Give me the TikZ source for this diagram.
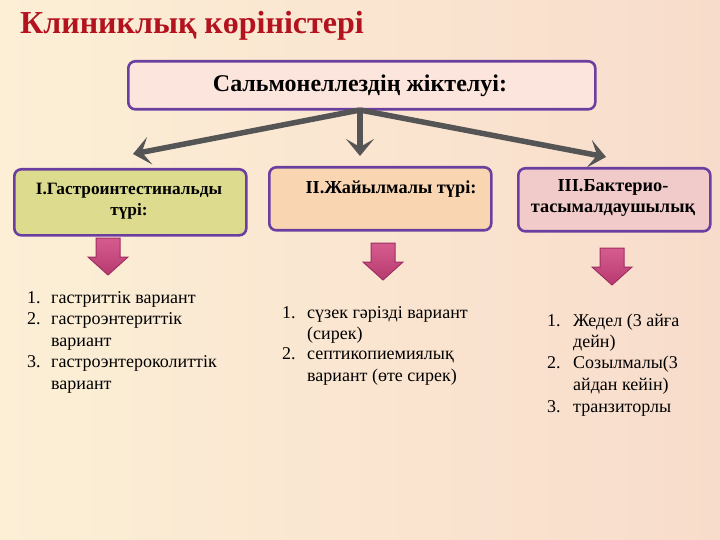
\documentclass[tikz,border=0pt]{standalone}
\usepackage{fontspec}
\setmainfont{Liberation Serif}[Ligatures=TeX]
\newfontfamily\tms{Liberation Serif}
\usetikzlibrary{arrows.meta,calc}
\definecolor{bgL}{HTML}{FCEFD6}
\definecolor{bgR}{HTML}{F8DCCB}
\definecolor{titlered}{HTML}{B3121F}
\definecolor{purp}{HTML}{6B3FA0}
\definecolor{topfill}{HTML}{FBE5DC}
\definecolor{olivefill}{HTML}{DCDB8E}
\definecolor{peachfill}{HTML}{F9D5B2}
\definecolor{pinkfill}{HTML}{F1CACA}
\definecolor{grayarr}{HTML}{555555}
\definecolor{pinkA}{HTML}{D65C8E}
\definecolor{pinkB}{HTML}{B73A6F}
\definecolor{pinkO}{HTML}{9E2F62}
\tikzset{
  box/.style={draw=purp, line width=2.6pt, rounded corners=7pt, anchor=north west, inner sep=0pt},
  boxtext/.style={font=\tms\bfseries\fontsize{18.3}{21}\selectfont, align=center},
  grayline/.style={draw=grayarr, line width=5.5pt, -{Stealth[length=17pt,width=28pt,inset=8pt]}},
  pinkarr/.style={draw=pinkO, line width=1pt, top color=pinkA, bottom color=pinkB},
  itemnum/.style={anchor=base west, font=\tms\fontsize{18}{21}\selectfont, inner sep=0pt},
  itemtxt/.style={anchor=base west, font=\tms\fontsize{18}{21}\selectfont, inner sep=0pt},
}
\begin{document}
\begin{tikzpicture}[x=1pt,y=-1pt]
\shade[left color=bgL, right color=bgR] (0,0) rectangle (720,540);
\useasboundingbox (0,0) rectangle (720,540);
% title
\node[anchor=base west, inner sep=0pt, text=titlered, font=\tms\bfseries\fontsize{32}{36}\selectfont] (title) at (20,34) {Клиниклық көріністері};
% top box
\node[box, fill=topfill, minimum width=467pt, minimum height=48pt] (top) at (127,60) {};
\node[font=\tms\bfseries\fontsize{24}{28}\selectfont] (toptxt) at (360,86) {Сальмонеллездің жіктелуі:};
% boxes
\node[box, fill=olivefill, minimum width=232pt, minimum height=66pt] (b1) at (13,168) {};
\node[boxtext, font=\tms\bfseries\fontsize{17.3}{20.5}\selectfont] (b1txt) at (129,201) {I.Гастроинтестинальды\\түрі:};
\node[box, fill=peachfill, minimum width=222pt, minimum height=63pt] (b2) at (268,166) {};
\node[boxtext] (b2txt) at (391,189) {II.Жайылмалы түрі:};
\node[box, fill=pinkfill, minimum width=192pt, minimum height=63pt] (b3) at (517,167) {};
\node[boxtext] (b3txt) at (613,198) {III.Бактерио-\\тасымалдаушылық};
% gray arrows
\coordinate (hub) at (360,110);
\coordinate (eL) at (133,154);
\coordinate (eM) at (360,156);
\coordinate (eR) at (606,157);
\draw[grayline] (hub) -- (eL);
\draw[grayline] (hub) -- (eM);
\draw[grayline] (hub) -- (eR);
% pink block arrows
\path[pinkarr, shift={(108,238)}] (-12,0) -- (12,0) -- (12,19) -- (20,19) -- (0,37) -- (-20,19) -- (-12,19) -- cycle;
\path[pinkarr, shift={(383,243)}] (-12,0) -- (12,0) -- (12,19) -- (20,19) -- (0,37) -- (-20,19) -- (-12,19) -- cycle;
\path[pinkarr, shift={(612,248)}] (-12,0) -- (12,0) -- (12,19) -- (20,19) -- (0,37) -- (-20,19) -- (-12,19) -- cycle;
% list 1
\node[itemnum] (n11) at (27,303) {1.};
\node[itemtxt] (t11) at (51,303) {гастриттік вариант};
\node[itemnum] (n12) at (27,324) {2.};
\node[itemtxt] (t12) at (51,324) {гастроэнтериттік};
\node[itemtxt] (t12b) at (51,346) {вариант};
\node[itemnum] (n13) at (27,367) {3.};
\node[itemtxt] (t13) at (51,367) {гастроэнтероколиттік};
\node[itemtxt] (t13b) at (51,389) {вариант};
% list 2
\node[itemnum] (n21) at (282,318) {1.};
\node[itemtxt] (t21) at (307,318) {сүзек гәрізді вариант};
\node[itemtxt] (t21b) at (307,339) {(сирек)};
\node[itemnum] (n22) at (282,359) {2.};
\node[itemtxt] (t22) at (307,359) {септикопиемиялық};
\node[itemtxt] (t22b) at (307,381) {вариант (өте сирек)};
% list 3
\node[itemnum] (n31) at (547,326) {1.};
\node[itemtxt] (t31) at (573,326) {Жедел (3 айға};
\node[itemtxt] (t31b) at (573,347) {дейн)};
\node[itemnum] (n32) at (547,368) {2.};
\node[itemtxt] (t32) at (573,368) {Созылмалы(3};
\node[itemtxt] (t32b) at (573,390) {айдан кейін)};
\node[itemnum] (n33) at (547,412) {3.};
\node[itemtxt] (t33) at (573,412) {транзиторлы};
\end{tikzpicture}
\end{document}
